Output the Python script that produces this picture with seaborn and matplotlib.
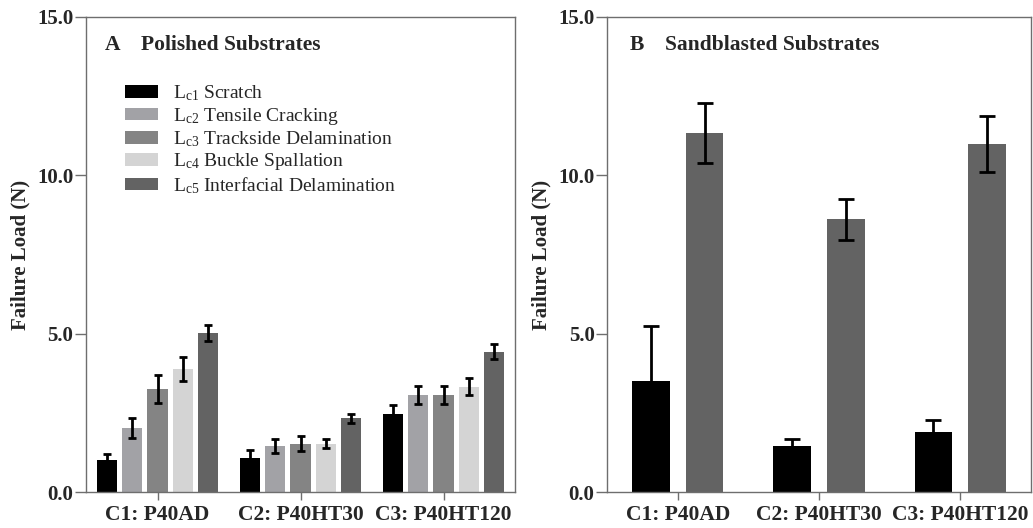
import numpy as np
import pandas as pd
import matplotlib
matplotlib.use("Agg")
import matplotlib.pyplot as plt
import seaborn as sns
from matplotlib.patches import Patch

# ---------------- data ----------------
categories = ["C1: P40AD", "C2: P40HT30", "C3: P40HT120"]
modes = ["Lc1", "Lc2", "Lc3", "Lc4", "Lc5"]
mode_labels = [r"L$_{\mathrm{c1}}$ Scratch",
               r"L$_{\mathrm{c2}}$ Tensile Cracking",
               r"L$_{\mathrm{c3}}$ Trackside Delamination",
               r"L$_{\mathrm{c4}}$ Buckle Spallation",
               r"L$_{\mathrm{c5}}$ Interfacial Delamination"]
mode_colors = ["#000000", "#a2a2a6", "#848484", "#d4d4d4", "#636363"]

# Polished substrates (rows: categories, cols: Lc1..Lc5)
polished_mean = [[1.02, 2.03, 3.25, 3.87, 5.02],
                 [1.07, 1.44, 1.52, 1.52, 2.33],
                 [2.45, 3.06, 3.06, 3.33, 4.43]]
polished_err = [[0.17, 0.31, 0.45, 0.38, 0.26],
                [0.27, 0.22, 0.24, 0.14, 0.14],
                [0.29, 0.28, 0.28, 0.27, 0.24]]

# Sandblasted substrates (only Lc1 and Lc5)
sand_modes = ["Lc1", "Lc5"]
sand_mean = [[3.49, 11.34],
             [1.46, 8.61],
             [1.91, 10.99]]
sand_err = [[1.75, 0.95],
            [0.22, 0.65],
            [0.35, 0.87]]

yticks = [0.0, 5.0, 10.0, 15.0]

# ---------------- style ----------------
sns.set_theme(style="ticks")
plt.rcParams["font.family"] = ["Liberation Serif", "DejaVu Serif"]
plt.rcParams["mathtext.fontset"] = "custom"
plt.rcParams["mathtext.rm"] = "Liberation Serif"
plt.rcParams["mathtext.it"] = "Liberation Serif:italic"
plt.rcParams["mathtext.bf"] = "Liberation Serif:bold"

W, H = 1033, 528
fig = plt.figure(figsize=(W / 100, H / 100), dpi=100)

def ax_rect(l, r, t, b):
    return [l / W, 1 - b / H, (r - l) / W, (b - t) / H]

axA = fig.add_axes(ax_rect(86, 515, 17, 492))
axB = fig.add_axes(ax_rect(607, 1031, 17, 492))

spine_col = "#6e6e6e"


def make_df(means, errs, mode_list):
    rows = []
    for i, c in enumerate(categories):
        for j, m in enumerate(mode_list):
            rows.append({"cat": c, "mode": m, "val": means[i][j], "err": errs[i][j]})
    return pd.DataFrame(rows)


def draw(ax, df, mode_list, width, gap, capsize):
    pal = {m: mode_colors[modes.index(m)] for m in mode_list}
    sns.barplot(data=df, x="cat", y="val", hue="mode", order=categories,
                hue_order=mode_list, palette=pal, width=width, gap=gap,
                errorbar=None, linewidth=0, saturation=1, legend=False, ax=ax)
    # error bars positioned from the bar patches
    for j, m in enumerate(mode_list):
        cont = ax.containers[j]
        xs = [p.get_x() + p.get_width() / 2 for p in cont.patches]
        sub = df[df["mode"] == m].set_index("cat").loc[categories]
        ax.errorbar(xs, sub["val"].values, yerr=sub["err"].values, fmt="none",
                    ecolor="black", elinewidth=2.0, capsize=capsize, capthick=2.0,
                    zorder=5)
    ax.set_xlim(-0.5, 2.5)
    ax.set_ylim(0, 15)
    ax.set_yticks(yticks)
    ax.set_yticklabels([f"{v:.1f}" for v in yticks], fontsize=15, fontweight="bold")
    ax.set_xticks(range(len(categories)))
    ax.set_xticklabels(categories, fontsize=15.5, fontweight="bold")
    ax.set_xlabel("")
    ax.set_ylabel("Failure Load (N)", fontsize=15, fontweight="bold", labelpad=5)
    for s in ax.spines.values():
        s.set_visible(True)
        s.set_color(spine_col)
        s.set_linewidth(1.0)
    ax.tick_params(axis="y", length=8, width=1.0, color=spine_col, pad=1)
    ax.tick_params(axis="x", length=6, width=1.0, color=spine_col, pad=3)


dfA = make_df(polished_mean, polished_err, modes)
draw(axA, dfA, modes, width=0.875, gap=0.2, capsize=3)
dfB = make_df(sand_mean, sand_err, sand_modes)
draw(axB, dfB, sand_modes, width=0.76, gap=0.3, capsize=5.5)

# panel titles
ttl = 15.5
axA.text(0.044, 0.941, "A", transform=axA.transAxes, fontsize=ttl,
         fontweight="bold", va="center", ha="left")
axA.text(0.128, 0.941, "Polished Substrates", transform=axA.transAxes, fontsize=ttl,
         fontweight="bold", va="center", ha="left")
axB.text(0.054, 0.941, "B", transform=axB.transAxes, fontsize=ttl,
         fontweight="bold", va="center", ha="left")
axB.text(0.137, 0.941, "Sandblasted Substrates", transform=axB.transAxes, fontsize=ttl,
         fontweight="bold", va="center", ha="left")

# legend
handles = [Patch(facecolor=c, edgecolor="none") for c in mode_colors]
axA.legend(handles, mode_labels, loc="upper left", bbox_to_anchor=(0.09, 0.86),
           frameon=False, fontsize=14, handlelength=1.7, handleheight=0.6,
           handletextpad=0.8, labelspacing=0.13, borderpad=0, borderaxespad=0)

fig.savefig("out.png", dpi=100)
